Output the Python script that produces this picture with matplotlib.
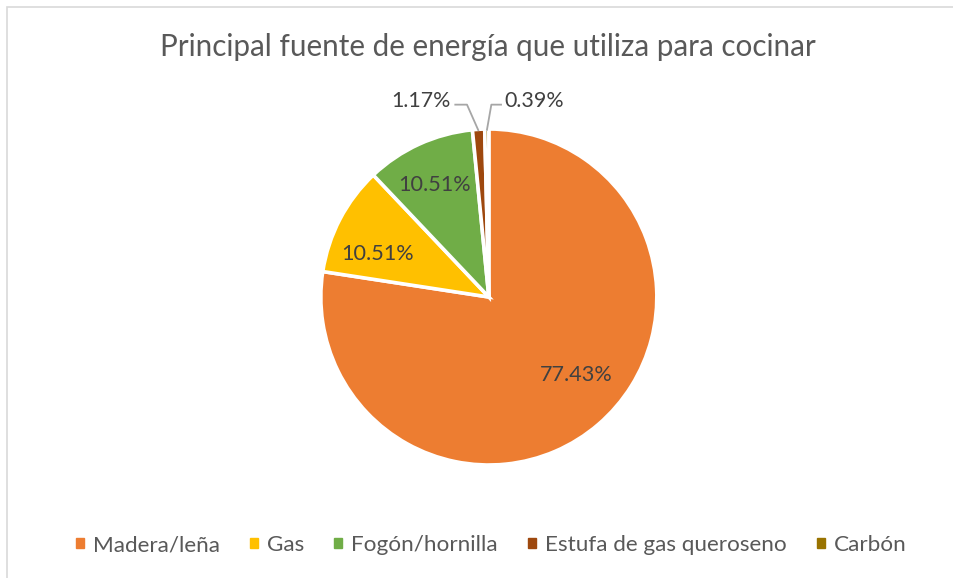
import numpy as np
import matplotlib
matplotlib.use("Agg")
import matplotlib.pyplot as plt
from matplotlib.patches import Rectangle

plt.rcParams["font.family"] = ["Lato", "DejaVu Sans"]

# datos
categorias = ["Madera/leña", "Gas", "Fogón/hornilla", "Estufa de gas queroseno", "Carbón"]
porcentajes = [77.43, 10.51, 10.51, 1.17, 0.39]
colores = ["#ED7D31", "#FFC000", "#70AD47", "#9E480E", "#997300"]

TEXTO = "#404040"
TITULO = "#595959"

fig = plt.figure(figsize=(9.54, 5.78), dpi=100)
fig.patch.set_facecolor("white")

# marco del gráfico
fig.add_artist(Rectangle((7 / 954, -0.05), 1.2, 1 - 7 / 578 + 0.05, transform=fig.transFigure,
                         fill=False, edgecolor="#d9d9d9", linewidth=1.2))

ax = fig.add_axes([0.3363, 0.1955, 0.3522, 0.5813])
wedges, _ = ax.pie(porcentajes, colors=colores, startangle=90, counterclock=False,
                   wedgeprops={"edgecolor": "white", "linewidth": 2.6})
ax.set_xlim(-1, 1)
ax.set_ylim(-1, 1)
ax.set_aspect("equal")

# etiquetas dentro de los sectores grandes (radio, desplazamiento angular)
pos_etiquetas = [(0.70, 7.5), (0.71, 6.4), (0.74, 1.6)]
for w, p, (r, da) in zip(wedges[:3], porcentajes[:3], pos_etiquetas):
    ang = np.deg2rad((w.theta1 + w.theta2) / 2 + da)
    ax.text(r * np.cos(ang), r * np.sin(ang), f"{p:.2f}%", ha="center", va="center",
            color=TEXTO, fontsize=15.6)

# etiquetas externas con líneas guía
externas = [(3, -0.405, 1.165, -0.13, "right"), (4, 0.268, 1.165, 0.015, "left")]
for i, tx, ty, codo, ha in externas:
    w = wedges[i]
    ang = np.deg2rad((w.theta1 + w.theta2) / 2)
    px, py = 0.99 * np.cos(ang), 0.99 * np.sin(ang)
    ax.text(tx, ty, f"{porcentajes[i]:.2f}%", ha="center", va="center",
            color=TEXTO, fontsize=15.4, clip_on=False)
    x0 = tx + 0.2 if ha == "right" else tx - 0.19
    ax.plot([x0, codo, px], [ty - 0.02, ty - 0.02, py], color="#a6a6a6", lw=1.3,
            clip_on=False, solid_capstyle="butt")

fig.text(0.5115, 0.918, "Principal fuente de energía que utiliza para cocinar",
         ha="center", va="center", color=TITULO, fontsize=21.3)

# leyenda
handles = [Rectangle((0, 0), 1, 1, color=c) for c in colores]
fig.legend(handles, categorias, loc="center", bbox_to_anchor=(0.515, 0.057), ncol=5,
           frameon=False, fontsize=16.2, labelcolor=TITULO, handlelength=0.36,
           handleheight=0.36, handletextpad=0.4, columnspacing=1.33)

fig.savefig("out.png", dpi=100, facecolor="white")
